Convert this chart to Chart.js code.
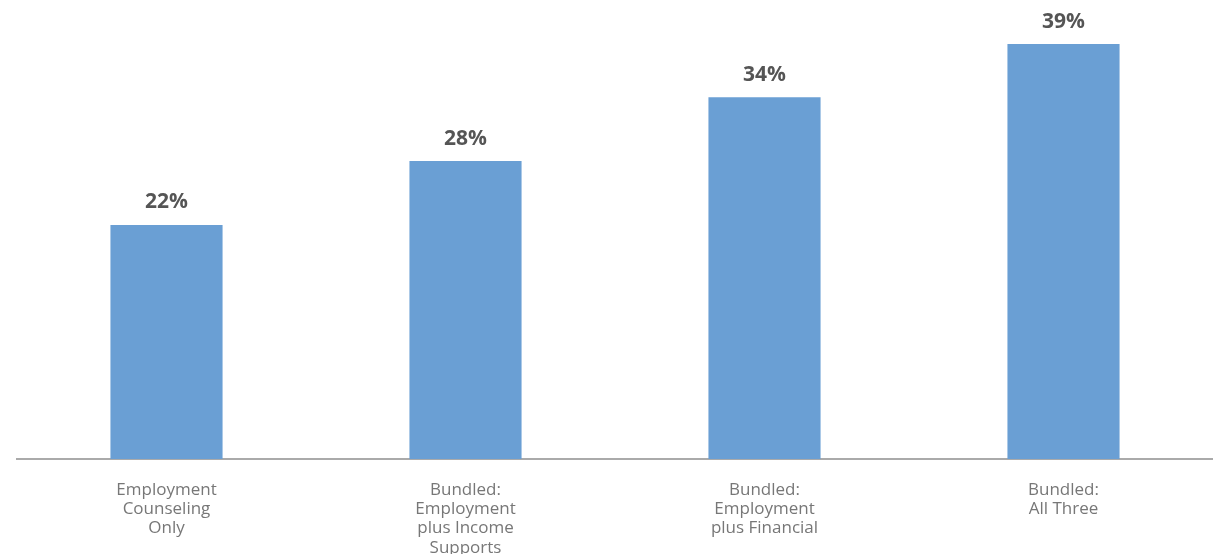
<!DOCTYPE html>
<html>
<head>
<meta charset="utf-8">
<script src="https://cdn.jsdelivr.net/npm/chart.js@4/dist/chart.umd.min.js"></script>
<style>
html,body{margin:0;padding:0;background:#fff;}
#wrap{width:1213px;height:554px;position:relative;}
</style>
</head>
<body>
<div id="wrap"><canvas id="c" width="1213" height="554"></canvas></div>
<script>
const categories = [
  ["Employment","Counseling","Only"],
  ["Bundled:","Employment","plus Income","Supports"],
  ["Bundled:","Employment","plus Financial"],
  ["Bundled:","All Three"]
];
const values = [22, 28, 34, 39];
const valueLabels = ["22%","28%","34%","39%"];

const labelPlugin = {
  id: 'valueLabels',
  afterDatasetsDraw(chart) {
    const ctx = chart.ctx;
    const meta = chart.getDatasetMeta(0);
    ctx.save();
    ctx.font = 'bold 21px "Open Sans"';
    ctx.fillStyle = '#555555';
    ctx.textAlign = 'center';
    ctx.textBaseline = 'bottom';
    meta.data.forEach((bar, i) => {
      ctx.fillText(valueLabels[i], bar.x, bar.y - 12);
    });
    ctx.restore();
  }
};

new Chart(document.getElementById('c'), {
  type: 'bar',
  data: {
    labels: categories,
    datasets: [{
      data: values,
      backgroundColor: '#6a9fd4',
      categoryPercentage: 1,
      barPercentage: 0.375
    }]
  },
  options: {
    responsive: false,
    animation: false,
    layout: { padding: { top: 33.4, left: 17, right: 0, bottom: 0 } },
    plugins: { legend: { display: false }, tooltip: { enabled: false } },
    scales: {
      x: {
        grid: { display: false },
        border: { display: true, color: '#aaaaaa', width: 2 },
        ticks: {
          color: '#777777',
          font: { family: '"Open Sans"', size: 17, lineHeight: 1.14 },
          padding: 13,
          maxRotation: 0,
          autoSkip: false
        },
        afterFit(s) { s.height = 95; }
      },
      y: {
        display: false,
        min: 0,
        max: 40
      }
    }
  },
  plugins: [labelPlugin]
});
</script>
</body>
</html>
